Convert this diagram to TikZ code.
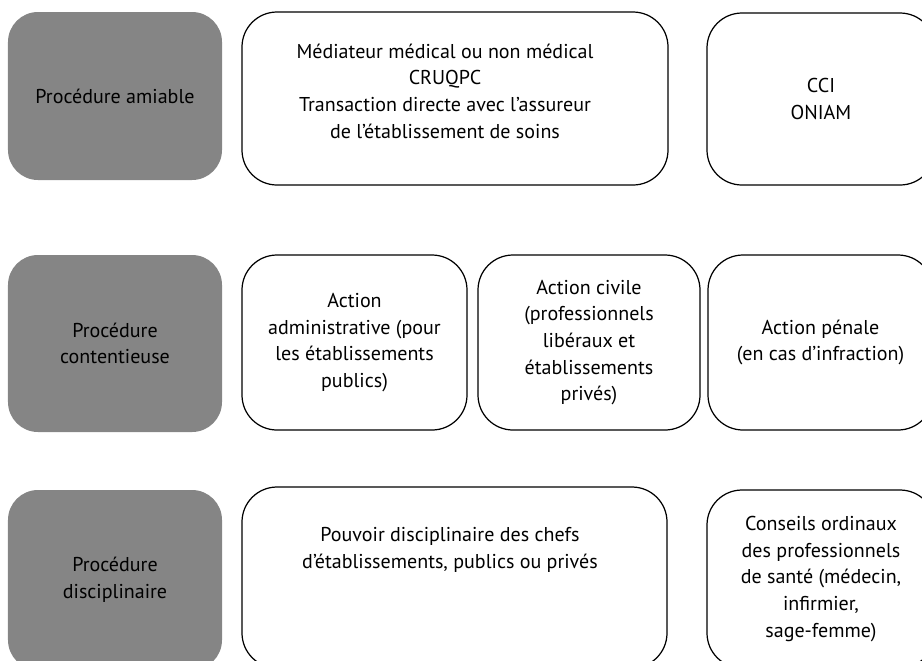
\documentclass[tikz,border=0pt]{standalone}
\usepackage{fontspec}
\setmainfont{PT Sans}
\usepackage{tikz}

\begin{document}
\begin{tikzpicture}[x=0.2mm, y=-0.2mm,
    procbox/.style={fill=black!48, rounded corners=6mm, align=center, inner sep=0pt,
        minimum width=42.8mm, font=\fontsize{11.4}{15.2}\selectfont},
    voiebox/.style={draw=black, line width=0.7pt, rounded corners=7mm, align=center,
        inner sep=0pt, font=\fontsize{11.4}{15.2}\selectfont},
    voietext/.style={align=center, inner sep=0pt, font=\fontsize{11.4}{15.2}\selectfont}]
                % Fix the frame of the page
                \useasboundingbox (0,0) rectangle (922,660);
                \clip (0,0) rectangle (922,660);

                % Gray boxes on the left
                \node[procbox, minimum height=33.6mm] (amiable) at (115,96) {Procédure amiable};
                \node[procbox, minimum height=35.4mm] (contentieuse) at (115,343.5) {Procédure\\contentieuse};
                \node[procbox, minimum height=36mm] (disciplinaire) at (115,580) {Procédure\\disciplinaire};

                % First row
                \node[voiebox, minimum width=85.2mm, minimum height=34.6mm] (mediateur) at (455,98.5) {};
                \node[voietext] (mediateurtxt) at (445,91)
                    {Médiateur médical ou non médical\\CRUQPC\\Transaction directe avec l’assureur\\de l’établissement de soins};
                \node[voiebox, minimum width=45.6mm, minimum height=34.4mm] (cci) at (821,99) {CCI\\ONIAM};

                % Second row
                \node[voiebox, minimum width=45mm, minimum height=35mm] (administrative) at (354.5,342.5)
                    {Action\\administrative (pour\\les établissements\\publics)};
                \node[voiebox, minimum width=44.4mm, minimum height=35mm] (civile) at (589,342.5)
                    {Action civile\\(professionnels\\libéraux et\\établissements\\privés)};
                \node[voiebox, minimum width=45mm, minimum height=35mm] (penale) at (820.5,342.5)
                    {Action pénale\\(en cas d’infraction)};

                % Third row, cut by the lower edge
                \node[voiebox, minimum width=85mm, minimum height=36.2mm] (pouvoir) at (454.5,577.5) {};
                \node[voietext] (pouvoirtxt) at (450,550)
                    {Pouvoir disciplinaire des chefs\\d’établissements, publics ou privés};
                \node[voiebox, minimum width=45.6mm, minimum height=35.6mm] (conseils) at (821,579)
                    {Conseils ordinaux\\des professionnels\\de santé (médecin,\\infirmier,\\sage-femme)};
\end{tikzpicture}
\end{document}
